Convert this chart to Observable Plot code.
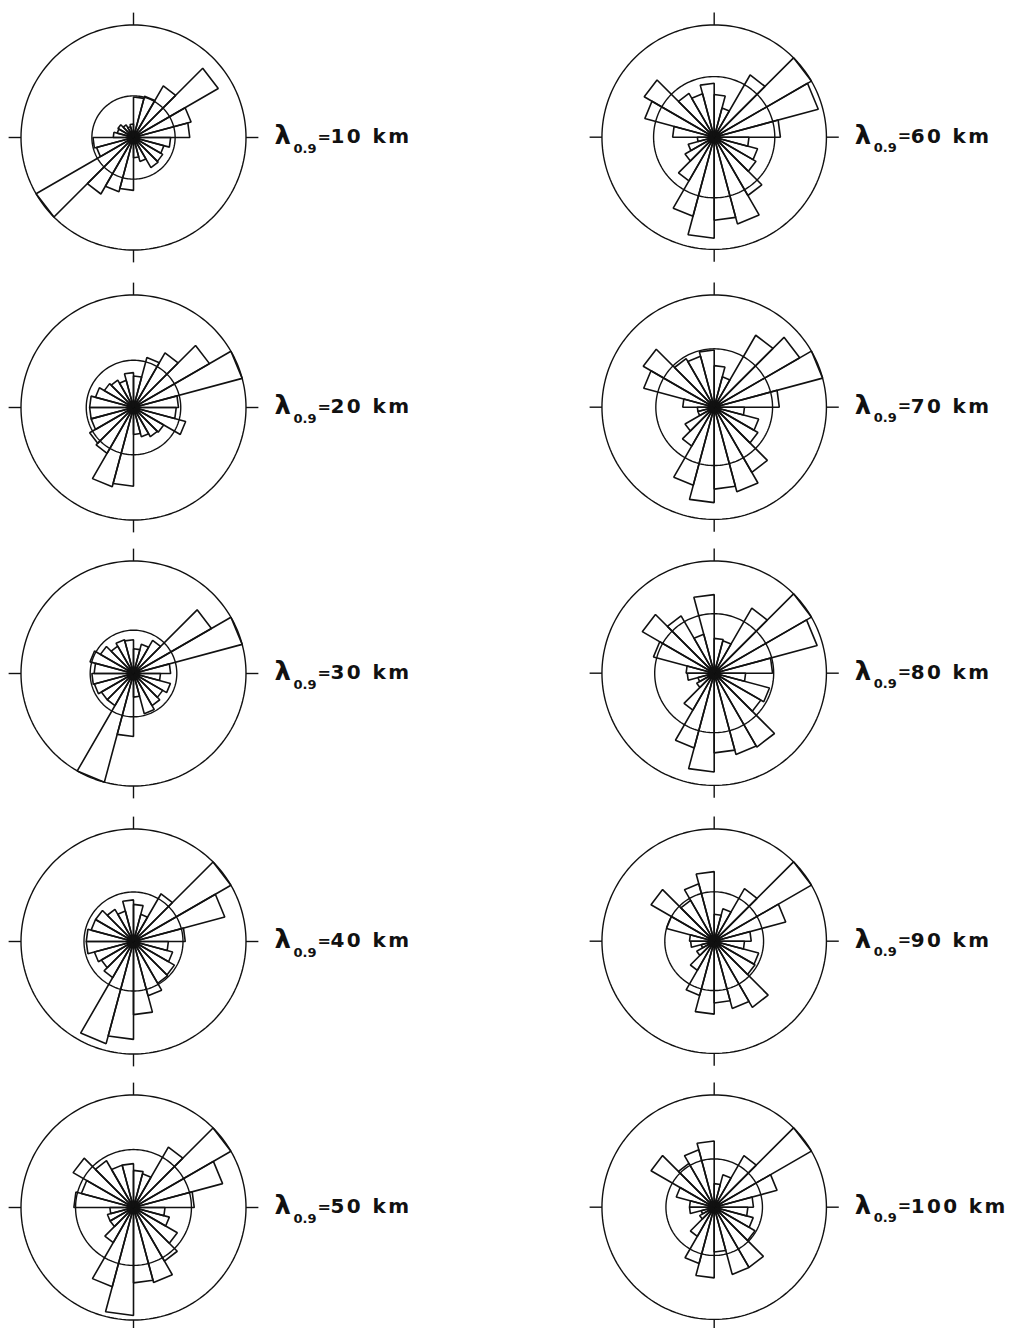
<!DOCTYPE html>
<html>
<head>
<meta charset="utf-8">
<script src="https://cdn.jsdelivr.net/npm/d3@7"></script>
<script src="https://cdn.jsdelivr.net/npm/@observablehq/plot@0.6"></script>
<style>
  html, body { margin: 0; padding: 0; background: #fff; }
  #chart { position: relative; width: 1010px; height: 1328px; overflow: hidden; background: #fff; }
  .panel { position: absolute; }
  .panel svg { overflow: visible; }
  .panel svg > g[aria-label="text"]:last-of-type text { letter-spacing: 2.4px; }
</style>
</head>
<body>
<div id="chart"></div>
<script>
// ---- data ----
// azimuth of each 15° class (start of bin, clockwise from north)
const binStarts = [0, 15, 30, 45, 60, 75, 90, 105, 120, 135, 150, 165,
                   180, 195, 210, 225, 240, 255, 270, 285, 300, 315, 330, 345];
const binWidth = 15;

// wavelength labels
const wavelengths = ["10 km", "20 km", "30 km", "40 km", "50 km",
                     "60 km", "70 km", "80 km", "90 km", "100 km"];

// radius of the inner reference circle (outer circle = 100)
const innerCircle = [37, 42, 38.5, 44, 51.5, 54, 52, 53, 44, 43];

// class frequencies (outer circle = 100, longer classes are cut at the circle)
const rose10  = [36, 38, 53, 87, 53, 50, 33, 28, 30, 31, 22, 18, 47, 50, 58, 100, 34, 36, 18, 15, 16, 13, 10, 12];
const rose20  = [28, 46, 56, 78, 100, 40, 38, 48, 31, 30, 27, 24, 70, 73, 47, 45, 39, 39, 39, 35, 30, 28, 25, 31];
const rose30  = [22, 27, 34, 80, 100, 33, 24, 34, 30, 33, 37, 21, 56, 100, 33, 33, 36, 37, 35, 40, 34, 28, 31, 30];
const rose40  = [33, 25, 49, 100, 84, 46, 31, 36, 42, 43, 50, 65, 87, 94, 37, 33, 36, 42, 42, 39, 39, 33, 28, 37];
const rose50  = [33, 31, 62, 100, 82, 54, 28, 33, 45, 55, 69, 67, 96, 73, 36, 24, 24, 21, 53, 48, 62, 48, 39, 39];
const rose60  = [38, 27, 64, 100, 96, 59, 31, 40, 43, 60, 80, 74, 90, 73, 45, 30, 24, 15, 37, 64, 72, 45, 40, 48];
const rose70  = [37, 28, 74, 88, 100, 58, 27, 41, 45, 67, 78, 73, 85, 72, 40, 30, 15, 15, 28, 65, 73, 50, 47, 51];
const rose80  = [31, 30, 67, 100, 95, 52, 28, 51, 48, 76, 75, 71, 88, 69, 38, 18, 15, 24, 25, 56, 74, 59, 36, 70];
const rose90  = [24, 30, 54, 100, 66, 33, 27, 41, 42, 68, 62, 55, 65, 50, 30, 18, 12, 21, 22, 44, 65, 42, 53, 62];
const rose100 = [21, 30, 53, 100, 58, 35, 30, 36, 42, 62, 62, 40, 63, 52, 30, 15, 12, 22, 22, 35, 65, 45, 53, 59];

const roses = [rose10, rose20, rose30, rose40, rose50, rose60, rose70, rose80, rose90, rose100];

// ---- geometry helpers ----
const outerRadius = 100;
const tickEnd = 111;
const tickAz = [0, 90, 180, 270];
const circleAz = d3.range(0, 361, 2);
const rad = d => d * Math.PI / 180;
const polar = (r, az) => ({x: r * Math.sin(rad(az)), y: r * Math.cos(rad(az))});

// ---- layout ----
const pxPerUnit = 1.125;
const panelW = 430, panelH = 268, cxPx = 133, cyPx = 134;
const colCenters = [133, 714];
const rowCenters = [137, 407, 673, 941, 1207];
const ink = "#111";
const labelFont = "DejaVu Sans";

function rosePanel(values, inner, label) {
  const wedges = binStarts.flatMap((a, i) => {
    const r = Math.min(values[i], outerRadius);
    return [
      {id: i, ...polar(0, a)},
      {id: i, ...polar(r, a)},
      {id: i, ...polar(r, a + binWidth)}
    ];
  });
  const rings = [
    ...circleAz.map(az => ({ring: "outer", ...polar(outerRadius, az)})),
    ...circleAz.map(az => ({ring: "inner", ...polar(inner, az)}))
  ];
  const ticks = tickAz.map(az => {
    const a = polar(outerRadius, az), b = polar(tickEnd, az);
    return {x1: a.x, y1: a.y, x2: b.x, y2: b.y};
  });
  return Plot.plot({
    width: panelW,
    height: panelH,
    margin: 0,
    x: {domain: [-cxPx / pxPerUnit, (panelW - cxPx) / pxPerUnit], axis: null},
    y: {domain: [-(panelH - cyPx) / pxPerUnit, cyPx / pxPerUnit], axis: null},
    style: {background: "transparent", overflow: "visible"},
    marks: [
      Plot.line(rings, {x: "x", y: "y", z: "ring", stroke: ink, strokeWidth: 1.4}),
      Plot.link(ticks, {x1: "x1", y1: "y1", x2: "x2", y2: "y2", stroke: ink, strokeWidth: 1.4}),
      Plot.line(wedges, {x: "x", y: "y", z: "id", curve: "linear-closed", stroke: ink, strokeWidth: 1.6, strokeLinejoin: "miter"}),
      Plot.text([label], {frameAnchor: "left", text: () => "λ", dx: 274, dy: -2, fontSize: 26, fontWeight: "bold", textAnchor: "start", fill: ink, fontFamily: labelFont}),
      Plot.text([label], {frameAnchor: "left", text: () => "0.9", dx: 293, dy: 11, fontSize: 13, fontWeight: "bold", textAnchor: "start", fill: ink, fontFamily: labelFont}),
      Plot.text([label], {frameAnchor: "left", text: () => "=", dx: 317, dy: -1, fontSize: 16, fontWeight: "bold", textAnchor: "start", fill: ink, fontFamily: labelFont}),
      Plot.text([label], {frameAnchor: "left", text: d => d, dx: 330, dy: -1, fontSize: 20, fontWeight: "bold", textAnchor: "start", fill: ink, fontFamily: labelFont})
    ]
  });
}

const chart = document.getElementById("chart");
roses.forEach((values, i) => {
  const col = Math.floor(i / 5), row = i % 5;
  const div = document.createElement("div");
  div.className = "panel";
  div.style.left = (colCenters[col] - cxPx) + "px";
  div.style.top = (rowCenters[row] - cyPx) + "px";
  div.appendChild(rosePanel(values, innerCircle[i], wavelengths[i]));
  chart.appendChild(div);
});
</script>
</body>
</html>
